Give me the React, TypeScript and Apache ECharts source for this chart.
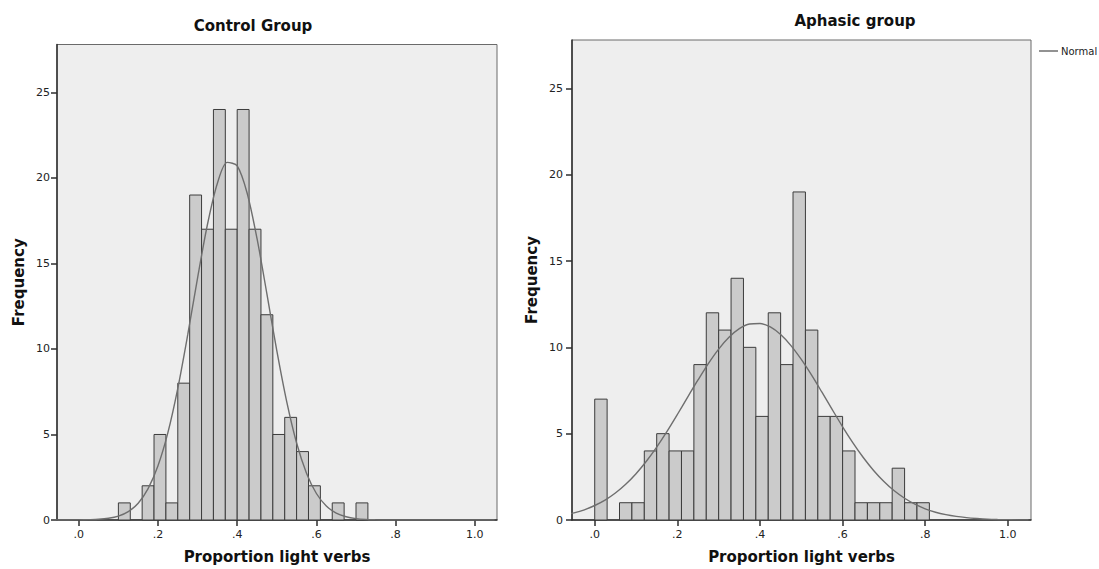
import React, { useEffect, useRef } from "react";
import * as echarts from "echarts";

// ---- Data ----
const binWidth = 0.03;

const controlBinStarts = [0.10, 0.13, 0.16, 0.19, 0.22, 0.25, 0.28, 0.31, 0.34, 0.37, 0.40, 0.43, 0.46, 0.49, 0.52, 0.55, 0.58, 0.61, 0.64, 0.67, 0.70];
const controlCounts = [1, 0, 2, 5, 1, 8, 19, 17, 24, 17, 24, 17, 12, 5, 6, 4, 2, 0, 1, 0, 1];

const aphasicBinStarts = [0.00, 0.03, 0.06, 0.09, 0.12, 0.15, 0.18, 0.21, 0.24, 0.27, 0.30, 0.33, 0.36, 0.39, 0.42, 0.45, 0.48, 0.51, 0.54, 0.57, 0.60, 0.63, 0.66, 0.69, 0.72, 0.75, 0.78];
const aphasicCounts = [7, 0, 1, 1, 4, 5, 4, 4, 9, 12, 11, 14, 10, 6, 12, 9, 19, 11, 6, 6, 4, 1, 1, 1, 3, 1, 1];

// Normal curve
const curveX = [-0.075, -0.05, -0.025, 0, 0.025, 0.05, 0.075, 0.1, 0.125, 0.15, 0.175, 0.2, 0.225, 0.25, 0.275, 0.3, 0.325, 0.35, 0.375, 0.4, 0.425, 0.45, 0.475, 0.5, 0.525, 0.55, 0.575, 0.6, 0.625, 0.65, 0.675, 0.7, 0.725, 0.75, 0.775, 0.8, 0.825, 0.85, 0.875, 0.9, 0.925, 0.95, 0.975, 1.0, 1.025, 1.05];
const controlNormal = [0, 0, 0, 0.01, 0.02, 0.04, 0.10, 0.23, 0.49, 0.98, 1.83, 3.17, 5.11, 7.70, 10.82, 14.16, 17.29, 19.69, 20.91, 20.70, 19.12, 16.46, 13.22, 9.90, 6.92, 4.50, 2.74, 1.55, 0.82, 0.40, 0.19, 0.08, 0.03, 0.01, 0, 0, 0, 0, 0, 0, 0, 0, 0, 0, 0, 0];
const aphasicNormal = [0.28, 0.41, 0.59, 0.84, 1.15, 1.56, 2.07, 2.68, 3.40, 4.22, 5.13, 6.11, 7.12, 8.11, 9.06, 9.90, 10.58, 11.08, 11.35, 11.38, 11.18, 10.74, 10.10, 9.30, 8.39, 7.40, 6.39, 5.40, 4.47, 3.62, 2.87, 2.23, 1.69, 1.26, 0.92, 0.65, 0.45, 0.31, 0.21, 0.14, 0.09, 0.05, 0.03, 0.02, 0.01, 0.01];

const xTickValues = [0, 0.2, 0.4, 0.6, 0.8, 1.0];
const yTickValues = [0, 5, 10, 15, 20, 25];

const titles = ["Control Group", "Aphasic group"];
const xName = "Proportion light verbs";
const yName = "Frequency";
const legendName = "Normal";

const FONT = "DejaVu Sans";

function histData(starts: number[], counts: number[]) {
  return starts
    .map((s, i) => [s, s + binWidth, counts[i]])
    .filter((d) => d[2] > 0);
}

function curveData(ys: number[]) {
  return curveX.map((x, i) => [x, ys[i]]);
}

const renderBar = (params: any, api: any) => {
  const start = api.value(0);
  const end = api.value(1);
  const count = api.value(2);
  const p0 = api.coord([start, count]);
  const p1 = api.coord([end, 0]);
  return {
    type: "rect",
    shape: { x: p0[0], y: p0[1], width: p1[0] - p0[0], height: p1[1] - p0[1] },
    style: { fill: "#cbcbcb", stroke: "#3c3c3c", lineWidth: 1 },
  };
};

const xLabelFmt = (v: number) => {
  if (Math.abs(v - 1) < 1e-9) return "1.0";
  return v.toFixed(1).replace(/^0/, "");
};

function makeXAxis(gridIndex: number) {
  return {
    gridIndex,
    type: "value",
    min: -0.055,
    max: 1.056,
    name: xName,
    nameLocation: "middle",
    nameGap: 29,
    nameTextStyle: { fontWeight: "bold", fontSize: 15, color: "#111", fontFamily: FONT },
    axisLine: { show: true, onZero: false, lineStyle: { color: "#2e2e2e", width: 1.5 } },
    axisTick: { show: true, length: 6, customValues: xTickValues, lineStyle: { color: "#2e2e2e", width: 1.5 } },
    axisLabel: { customValues: xTickValues, formatter: xLabelFmt, fontSize: 11, color: "#222", margin: 9, fontFamily: FONT },
    splitLine: { show: false },
  };
}

function makeYAxis(gridIndex: number, gap: number, margin: number) {
  return {
    gridIndex,
    type: "value",
    min: 0,
    max: 27.8,
    name: yName,
    nameLocation: "middle",
    nameGap: gap,
    nameRotate: 90,
    nameTextStyle: { fontWeight: "bold", fontSize: 15, color: "#111", fontFamily: FONT },
    axisLine: { show: true, onZero: false, lineStyle: { color: "#2e2e2e", width: 1.5 } },
    axisTick: { show: true, length: 6, customValues: yTickValues, lineStyle: { color: "#2e2e2e", width: 1.5 } },
    axisLabel: { customValues: yTickValues, fontSize: 11, color: "#222", margin, fontFamily: FONT },
    splitLine: { show: false },
  };
}

export default function App() {
  const ref = useRef<HTMLDivElement>(null);

  useEffect(() => {
    if (!ref.current) return;
    const chart = echarts.init(ref.current, undefined, { renderer: "svg" });
    const option: any = {
      animation: false,
      backgroundColor: "#ffffff",
      textStyle: { fontFamily: FONT },
      grid: [
        { left: 57, top: 44.5, width: 440, height: 478, show: true, backgroundColor: "#eeeeee", borderColor: "#6a6a6a", borderWidth: 1 },
        { left: 572, top: 40, width: 459, height: 481, show: true, backgroundColor: "#eeeeee", borderColor: "#6a6a6a", borderWidth: 1 },
      ],
      xAxis: [makeXAxis(0), makeXAxis(1)],
      yAxis: [makeYAxis(0, 31, 7), makeYAxis(1, 33, 9)],
      legend: {
        data: [{ name: legendName, icon: "rect" }],
        left: 1034,
        top: 41,
        itemWidth: 19,
        itemHeight: 1.5,
        itemGap: 4,
        textStyle: { fontSize: 10, color: "#222", fontFamily: FONT, padding: [0, 0, 0, -2] },
        selectedMode: false,
      },
      graphic: [
        { type: "text", x: 253, y: 26, style: { text: titles[0], textAlign: "center", textVerticalAlign: "middle", fontWeight: "bold", fontSize: 15, fontFamily: FONT, fill: "#111" } },
        { type: "text", x: 855, y: 21, style: { text: titles[1], textAlign: "center", textVerticalAlign: "middle", fontWeight: "bold", fontSize: 15, fontFamily: FONT, fill: "#111" } },
      ],
      series: [
        {
          type: "custom",
          xAxisIndex: 0,
          yAxisIndex: 0,
          renderItem: renderBar,
          encode: { x: [0, 1], y: 2 },
          data: histData(controlBinStarts, controlCounts),
          silent: true,
        },
        {
          type: "custom",
          xAxisIndex: 1,
          yAxisIndex: 1,
          renderItem: renderBar,
          encode: { x: [0, 1], y: 2 },
          data: histData(aphasicBinStarts, aphasicCounts),
          silent: true,
        },
        {
          name: legendName,
          type: "line",
          xAxisIndex: 0,
          yAxisIndex: 0,
          data: curveData(controlNormal),
          smooth: 0.3,
          symbol: "none",
          clip: true,
          lineStyle: { color: "#6e6e6e", width: 1.4 },
          itemStyle: { color: "#6e6e6e" },
          z: 5,
        },
        {
          name: legendName,
          type: "line",
          xAxisIndex: 1,
          yAxisIndex: 1,
          data: curveData(aphasicNormal),
          smooth: 0.3,
          symbol: "none",
          clip: true,
          lineStyle: { color: "#6e6e6e", width: 1.4 },
          itemStyle: { color: "#6e6e6e" },
          z: 5,
        },
      ],
    };
    chart.setOption(option);
    return () => chart.dispose();
  }, []);

  return (
    <div
      ref={ref}
      style={{ position: "fixed", left: 0, top: 0, width: 1099, height: 569 }}
    />
  );
}
